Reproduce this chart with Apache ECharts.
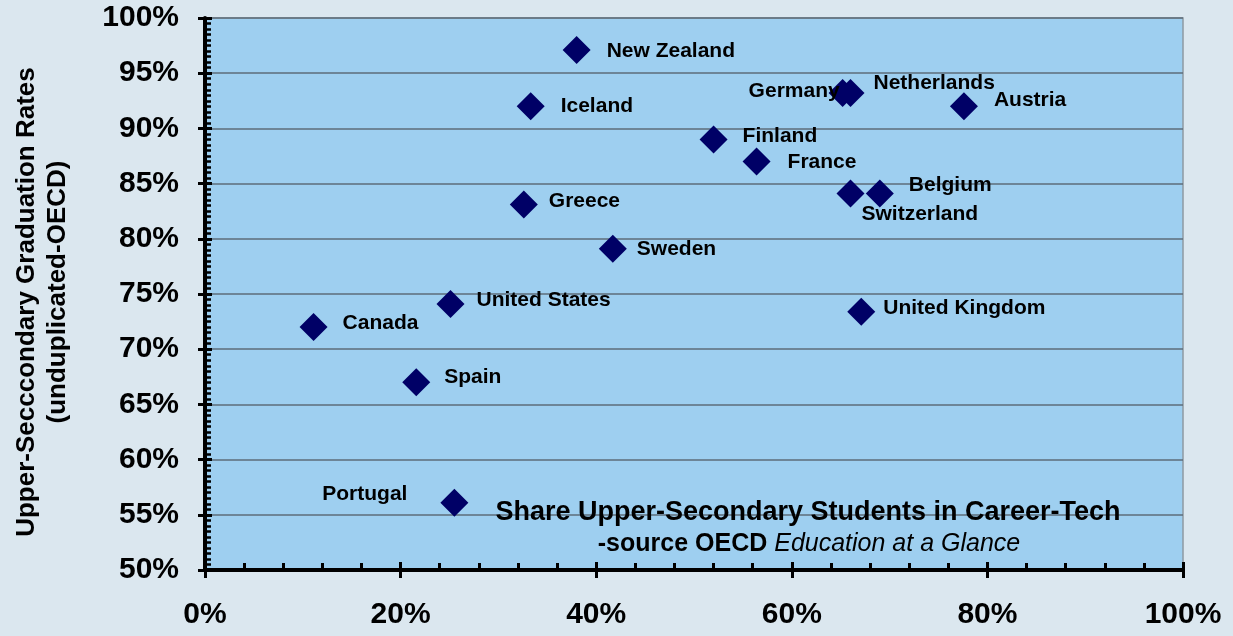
<!DOCTYPE html>
<html>
<head>
<meta charset="utf-8">
<script src="https://cdn.jsdelivr.net/npm/echarts@6/dist/echarts.min.js"></script>
<style>
html,body{margin:0;padding:0;background:#dbe7ef;}
#chart{width:1233px;height:636px;}
</style>
</head>
<body>
<div id="chart"></div>
<script>
// ---- data ----
var countries = ['New Zealand','Iceland','Greece','Sweden','Finland','France','Germany','Netherlands','Austria','Switzerland','Belgium','United Kingdom','United States','Canada','Spain','Portugal'];
var careerTechShare = [38.0, 33.3, 32.6, 41.7, 52.0, 56.4, 65.2, 66.0, 77.6, 66.0, 69.0, 67.1, 25.1, 11.1, 21.6, 25.5];
var graduationRate  = [97.1, 92.0, 83.1, 79.1, 89.0, 87.0, 93.2, 93.2, 92.0, 84.1, 84.1, 73.4, 74.1, 72.0, 67.0, 56.1];
var xTicks = [0, 20, 40, 60, 80, 100];
var yTicks = [50, 55, 60, 65, 70, 75, 80, 85, 90, 95, 100];
var yAxisTitle1 = 'Upper-Secccondary Graduation Rates';
var yAxisTitle2 = '(unduplicated-OECD)';
var noteLine1 = 'Share Upper-Secondary Students in Career-Tech';
var noteLine2a = '-source OECD ';
var noteLine2b = 'Education at a Glance';

// ---- label placement (style, kept apart from the data) ----
var labelPlace = {
  'New Zealand':   ['right', 16, 1],
  'Iceland':       ['right', 16, 0],
  'Greece':        ['right', 11, -3],
  'Sweden':        ['right', 10, 0],
  'Finland':       ['right', 15, -3],
  'France':        ['right', 17, 1],
  'Germany':       ['left', -11, -2],
  'Netherlands':   ['right', 9, -10],
  'Austria':       ['right', 16, -6],
  'Switzerland':   ['right', -3, 21],
  'Belgium':       ['right', 15, -8],
  'United Kingdom':['right', 8, -3],
  'United States': ['right', 12, -4],
  'Canada':        ['right', 15, -4],
  'Spain':         ['right', 14, -5],
  'Portugal':      ['left', 33, -8]
};

var FONT = '"Liberation Sans", Arial, sans-serif';

var points = countries.map(function (c, i) {
  var p = labelPlace[c];
  return {
    name: c,
    value: [careerTechShare[i], graduationRate[i]],
    label: {
      position: p[0],
      distance: 0,
      offset: [p[0] === 'right' ? p[1] : -p[1], p[2]]
    }
  };
});

var chart = echarts.init(document.getElementById('chart'), null, {renderer: 'canvas'});

var xMin = xTicks[0], xMax = xTicks[xTicks.length - 1], xInt = xTicks[1] - xTicks[0];
var yMin = yTicks[0], yMax = yTicks[yTicks.length - 1], yInt = yTicks[1] - yTicks[0];

chart.setOption({
  backgroundColor: '#dbe7ef',
  animation: false,
  grid: {
    left: 205, top: 18, width: 978, height: 552,
    show: true, backgroundColor: '#9ecff0',
    borderColor: '#8f9aa3', borderWidth: 1.5
  },
  xAxis: [{
    type: 'value', min: xMin, max: xMax, interval: xInt,
    axisLine: {show: true, lineStyle: {color: '#000', width: 4}},
    axisTick: {show: true, inside: false, length: 8, lineStyle: {color: '#000', width: 3}},
    axisLabel: {
      margin: 30, color: '#000', fontSize: 30, fontWeight: 'bold', fontFamily: FONT,
      formatter: '{value}%'
    },
    splitLine: {show: false}
  }, {
    type: 'value', min: xMin, max: xMax, interval: xInt, position: 'bottom', gridIndex: 0,
    axisLine: {show: false},
    axisTick: {show: true, inside: true, length: 8, lineStyle: {color: '#000', width: 3}},
    minorTick: {show: true, splitNumber: 5, length: 7, lineStyle: {color: '#000', width: 3}},
    axisLabel: {show: false},
    splitLine: {show: false}
  }],
  yAxis: [{
    type: 'value', min: yMin, max: yMax, interval: yInt,
    axisLine: {show: true, lineStyle: {color: '#000', width: 4}},
    axisTick: {show: true, inside: false, length: 7, lineStyle: {color: '#000', width: 3}},
    axisLabel: {
      margin: 26, color: '#000', fontSize: 30, fontWeight: 'bold', fontFamily: FONT,
      formatter: '{value}%'
    },
    splitLine: {show: true, lineStyle: {color: '#5d6d7a', width: 1.5}}
  }, {
    type: 'value', min: yMin, max: yMax, interval: yInt, position: 'left', gridIndex: 0,
    axisLine: {show: false},
    axisTick: {show: true, inside: true, length: 7, lineStyle: {color: '#000', width: 3}},
    minorTick: {show: true, splitNumber: 10, length: 6, lineStyle: {color: '#000', width: 2.5}},
    axisLabel: {show: false},
    splitLine: {show: false}
  }],
  series: [{
    type: 'scatter',
    xAxisIndex: 0, yAxisIndex: 0,
    symbol: 'diamond',
    symbolSize: 28,
    itemStyle: {color: '#000066', opacity: 1},
    label: {
      show: true,
      formatter: '{b}',
      color: '#000',
      fontSize: 21,
      fontWeight: 'bold',
      fontFamily: FONT
    },
    emphasis: {disabled: true},
    data: points,
    z: 3
  }],
  graphic: [{
    type: 'text', x: 27, y: 302, rotation: Math.PI / 2,
    style: {text: yAxisTitle1, fill: '#000', font: 'bold 26px ' + FONT, align: 'center', verticalAlign: 'middle'}
  }, {
    type: 'text', x: 58, y: 292, rotation: Math.PI / 2,
    style: {text: yAxisTitle2, fill: '#000', font: 'bold 26px ' + FONT, align: 'center', verticalAlign: 'middle'}
  }, {
    type: 'text', x: 808, y: 513, z: 10,
    style: {text: noteLine1, fill: '#000', font: 'bold 27px ' + FONT, align: 'center', verticalAlign: 'middle'}
  }, {
    type: 'text', x: 809, y: 544, z: 10,
    style: {
      text: '{a|' + noteLine2a + '}{b|' + noteLine2b + '}',
      align: 'center', verticalAlign: 'middle',
      rich: {
        a: {fill: '#000', fontSize: 25, fontWeight: 'bold', fontFamily: FONT},
        b: {fill: '#000', fontSize: 25, fontStyle: 'italic', fontFamily: FONT}
      }
    }
  }]
});
</script>
</body>
</html>
